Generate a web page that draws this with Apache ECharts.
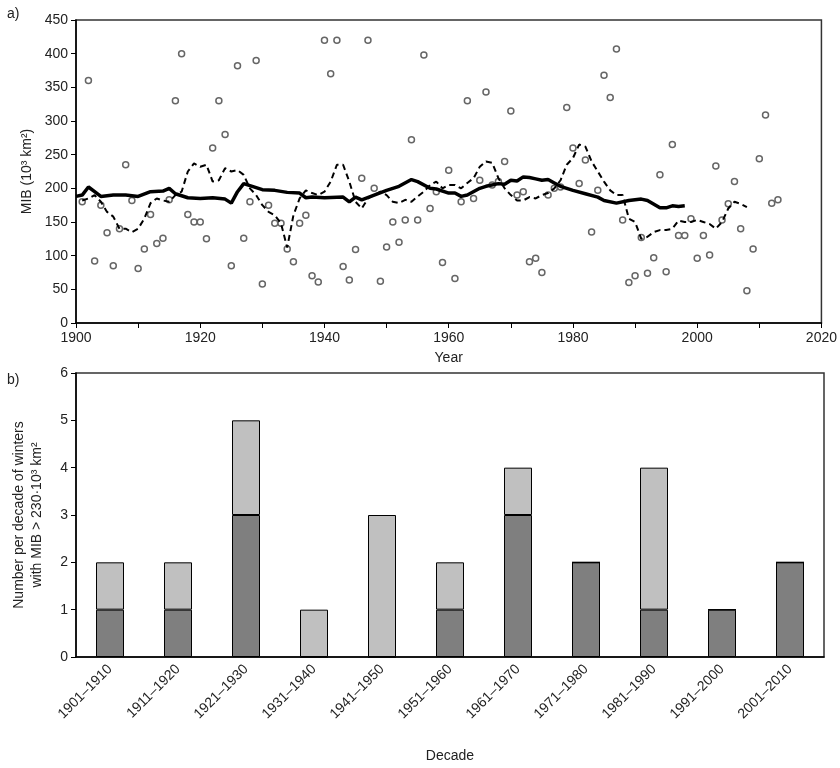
<!DOCTYPE html>
<html><head><meta charset="utf-8">
<script src="https://cdn.jsdelivr.net/npm/echarts@6/dist/echarts.min.js"></script>
<style>body{margin:0;background:#fff}#c{width:840px;height:768px}</style></head>
<body><div id="c"></div>
<script>
const scatterYears = [];for(let y=1901;y<=2013;y++)scatterYears.push(y);
const scatterVals = [180,360,92,175,134,85,140,235,182,81,110,161,118,126,183,330,400,161,150,150,125,260,330,280,85,382,126,180,390,58,175,148,148,110,91,148,160,70,61,420,370,420,84,64,109,215,420,200,62,113,150,120,153,272,153,398,170,195,90,227,66,180,330,185,212,343,205,210,240,315,190,195,91,96,75,190,200,202,320,260,207,242,135,197,368,335,407,153,60,70,127,74,97,220,76,265,130,130,155,96,130,101,233,153,177,210,140,48,110,244,309,178,183];
const solidYears=[1900,1901,1902,1903,1904,1906,1908,1910,1912,1914,1915,1916,1918,1920,1922,1924,1925,1926,1927,1928,1930,1932,1934,1936,1937,1938,1940,1943,1944,1945,1946,1948,1950,1952,1954,1955,1957,1958,1960,1961,1962,1963,1965,1966,1968,1969,1970,1971,1972,1973,1974,1975,1976,1977,1978,1979,1980,1982,1984,1985,1987,1989,1991,1992,1994,1995,1996,1997,1998];
const solidVals=[188,190,202,195,188,190,190,188,195,196,200,192,186,185,186,184,178,195,207,204,198,197,194,193,186,187,186,187,180,187,183,190,197,203,213,210,200,199,193,193,188,190,200,203,207,206,212,211,217,216,214,212,213,208,203,200,197,192,187,182,178,182,184,182,171,171,174,173,174];
const dashYears=[];for(let y=1901;y<=2008;y++)dashYears.push(y);
const dashVals=[182,185,190,180,165,158,140,140,135,140,155,178,185,182,180,190,195,225,237,232,235,210,212,230,225,227,220,200,190,175,165,160,148,112,160,185,197,193,190,195,210,235,235,210,180,170,185,190,195,190,180,178,183,180,188,195,205,210,200,205,205,200,208,215,232,240,238,215,200,190,182,182,187,185,190,193,200,212,235,245,265,262,240,225,210,197,190,190,155,150,125,128,135,138,138,140,152,150,150,153,150,147,140,150,170,180,177,172];
const decades=['1901–1910','1911–1920','1921–1930','1931–1940','1941–1950','1951–1960','1961–1970','1971–1980','1981–1990','1991–2000','2001–2010'];
const darkCounts=[1,1,3,0,0,1,3,2,1,1,2];
const lightCounts=[1,1,2,1,3,1,1,0,3,0,0];
const zip=(a,b)=>a.map((v,i)=>[v,b[i]]);
const F='Liberation Sans, Arial, sans-serif';
const ax={axisLine:{show:true,lineStyle:{color:'#000',width:1.5}},axisTick:{show:true,lineStyle:{color:'#000'},length:5},axisLabel:{color:'#222',fontSize:14,fontFamily:F},splitLine:{show:false}};
const c=echarts.init(document.getElementById('c'));
c.setOption({
 animation:false,
 title:[{text:'a)',left:2,top:2,textStyle:{fontSize:14,fontWeight:'normal',fontFamily:F,color:'#222'}},
        {text:'b)',left:2,top:368,textStyle:{fontSize:14,fontWeight:'normal',fontFamily:F,color:'#222'}}],
 grid:[{left:76,right:16,top:20,height:303,show:true,borderColor:'#333',borderWidth:1.5},
       {left:76,right:16,top:373,height:284,show:true,borderColor:'#333',borderWidth:1.5}],
 xAxis:[Object.assign({},ax,{type:'value',gridIndex:0,min:1900,max:2020,interval:20,axisLabel:{color:'#222',fontSize:14,fontFamily:F,formatter:v=>String(v)},name:'Year',nameLocation:'middle',nameGap:28,nameTextStyle:{fontSize:14,fontFamily:F,color:'#222'},minorTick:{show:true,splitNumber:2,length:5,lineStyle:{color:'#000'}}}),
        Object.assign({},ax,{type:'category',gridIndex:1,data:decades,axisTick:{show:false},axisLabel:{color:'#222',fontSize:14,fontFamily:F,rotate:45,margin:10},name:'Decade',nameLocation:'middle',nameGap:92,nameTextStyle:{fontSize:14,fontFamily:F,color:'#222'}})],
 yAxis:[Object.assign({},ax,{type:'value',gridIndex:0,min:0,max:450,interval:50,name:'MIB (10³ km²)',nameLocation:'middle',nameGap:40,nameTextStyle:{fontSize:14,fontFamily:F,color:'#222'}}),
        Object.assign({},ax,{type:'value',gridIndex:1,min:0,max:6,interval:1,name:'Number per decade of winters\nwith MIB > 230·10³ km²',nameLocation:'middle',nameGap:30,nameTextStyle:{fontSize:14,fontFamily:F,color:'#222',lineHeight:18}})],
 series:[
  {type:'scatter',xAxisIndex:0,yAxisIndex:0,z:1,data:zip(scatterYears,scatterVals),symbol:'circle',symbolSize:6,itemStyle:{color:'#ffffff',borderColor:'#666666',borderWidth:1.5,opacity:1}},
  {type:'line',xAxisIndex:0,yAxisIndex:0,z:3,data:zip(dashYears,dashVals),showSymbol:false,lineStyle:{color:'#000',width:2,type:[6,4]}},
  {type:'line',xAxisIndex:0,yAxisIndex:0,z:4,data:zip(solidYears,solidVals),showSymbol:false,lineStyle:{color:'#000',width:3.5}},
  {type:'bar',xAxisIndex:1,yAxisIndex:1,stack:'a',data:darkCounts,barWidth:28,itemStyle:{color:'#7f7f7f',borderColor:'#000',borderWidth:1}},
  {type:'bar',xAxisIndex:1,yAxisIndex:1,stack:'a',data:lightCounts,barWidth:28,itemStyle:{color:'#c0c0c0',borderColor:'#000',borderWidth:1}}
 ]
});
</script></body></html>
